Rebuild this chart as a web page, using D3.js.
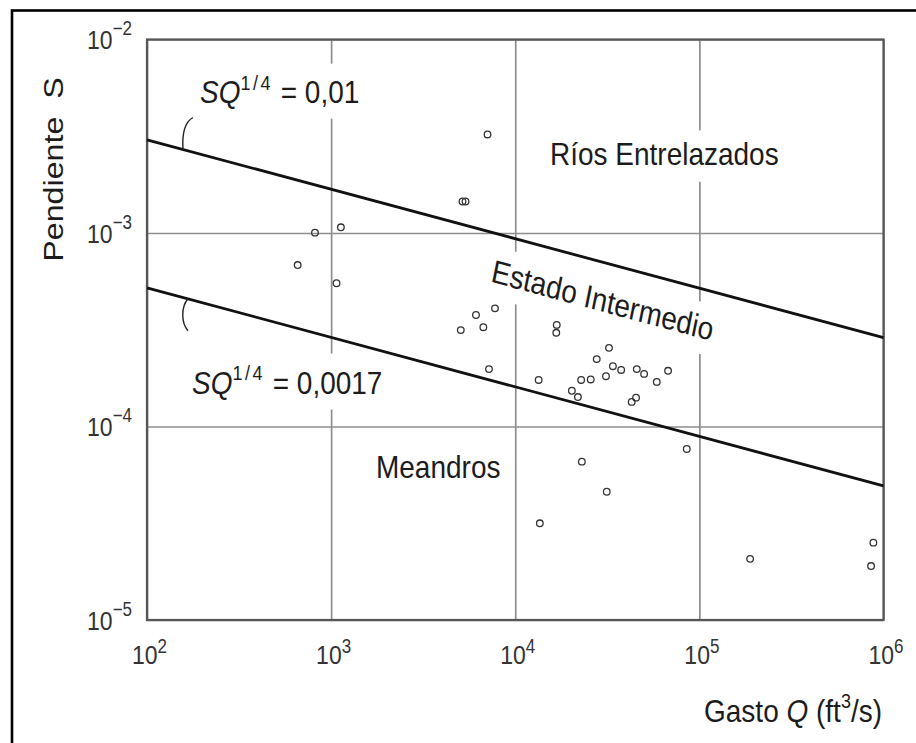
<!DOCTYPE html>
<html><head><meta charset="utf-8">
<script src="https://cdn.jsdelivr.net/npm/d3@7"></script>
<style>
body{margin:0;background:#fff}
svg{display:block}
text{font-family:Arial,"Liberation Sans",sans-serif}
</style>
</head><body>
<svg id="c" width="916" height="743"></svg>
<script>
// ---------- data ----------
const xTickValues = [1e2, 1e3, 1e4, 1e5, 1e6];
const xTickExponents = ["2", "3", "4", "5", "6"];
const yTickValues = [1e-2, 1e-3, 1e-4, 1e-5];
const yTickExponents = ["\u22122", "\u22123", "\u22124", "\u22125"];

const gastoQ = [7070, 5170, 5370, 817, 1130, 658, 1070, 5060, 6120, 7760, 6710, 7200,
  16800, 16700, 13400, 20300, 21900, 22800, 25700, 27700, 32300, 31100, 33900, 37600,
  45700, 50100, 58700, 67600, 42900, 45300, 85400, 23000, 31400, 13600, 188600, 881000, 856000];
const pendienteS = [3.23e-3, 1.455e-3, 1.455e-3, 1.004e-3, 1.07e-3, 6.83e-4, 5.5e-4, 3.15e-4, 3.77e-4, 4.08e-4, 3.26e-4, 1.98e-4,
  3.35e-4, 3.05e-4, 1.74e-4, 1.53e-4, 1.42e-4, 1.74e-4, 1.75e-4, 2.23e-4, 2.55e-4, 1.82e-4, 2.05e-4, 1.96e-4,
  1.98e-4, 1.87e-4, 1.70e-4, 1.94e-4, 1.34e-4, 1.41e-4, 7.65e-5, 6.58e-5, 4.6e-5, 3.16e-5, 2.07e-5, 2.51e-5, 1.9e-5];

// boundary lines SQ^(1/4) = const (end points)
const upperLineQ = [1e2, 1e6];
const upperLineS = [3.03e-3, 2.88e-4];
const lowerLineQ = [1e2, 1e6];
const lowerLineS = [5.21e-4, 4.93e-5];

// ---------- layout ----------
const svg = d3.select("#c");
const L = 147, R = 883.5, T = 39.5, B = 620;
const SY = 1.15; // vertical stretch of lettering
const x = d3.scaleLog().domain([1e2, 1e6]).range([L, R]);
const y = d3.scaleLog().domain([1e-5, 1e-2]).range([B, T]);

// outer frame
svg.append("rect").attr("x", 12).attr("y", 10.5).attr("width", 1000).attr("height", 1000)
  .attr("fill", "none").attr("stroke", "#000").attr("stroke-width", 2.6);

// grid via axes
const gx = svg.append("g").attr("transform", `translate(0,${B})`)
  .call(d3.axisBottom(x).tickValues(xTickValues).tickSize(-(B - T)).tickFormat(() => ""));
gx.select(".domain").remove();
gx.selectAll(".tick line").attr("stroke", "#8e8e8e").attr("stroke-width", 1.7);
gx.selectAll(".tick").each(function (d, i) {
  const g = d3.select(this).append("g").attr("transform", `translate(2,44) scale(1,${SY})`);
  const t = g.append("text").attr("text-anchor", "middle").attr("font-size", 23).attr("fill", "#333");
  t.append("tspan").text("10");
  t.append("tspan").attr("font-size", 17).attr("dy", -9.5).text(xTickExponents[i]);
});

const gy = svg.append("g").attr("transform", `translate(${L},0)`)
  .call(d3.axisLeft(y).tickValues(yTickValues).tickSize(-(R - L)).tickFormat(() => ""));
gy.select(".domain").remove();
gy.selectAll(".tick line").attr("stroke", "#8e8e8e").attr("stroke-width", 1.7);
gy.selectAll(".tick").each(function (d, i) {
  const g = d3.select(this).append("g").attr("transform", `translate(-15,9) scale(1,${SY})`);
  const t = g.append("text").attr("text-anchor", "end").attr("font-size", 23).attr("fill", "#333");
  t.append("tspan").text("10");
  t.append("tspan").attr("font-size", 17).attr("dy", -12).text(yTickExponents[i]);
});

// plot frame
svg.append("rect").attr("x", L).attr("y", T).attr("width", R - L).attr("height", B - T)
  .attr("fill", "none").attr("stroke", "#555").attr("stroke-width", 2.2);

// ---------- in-plot labels (with white knock-out behind to break grid) ----------
function label(px, py, angle, build, pad) {
  const g = svg.append("g").attr("transform", `translate(${px},${py}) scale(1,${SY}) rotate(${angle})`);
  const r = g.append("rect").attr("fill", "#fff");
  const t = g.append("text").attr("font-size", 28).attr("fill", "#1c1c1c");
  build(t);
  const bb = t.node().getBBox();
  const p = pad || [5, 6, 5, 8];
  r.attr("x", bb.x - p[0]).attr("y", bb.y - p[1]).attr("width", bb.width + p[0] + p[2]).attr("height", bb.height + p[1] + p[3]);
  return g;
}

const lineSlope = (y(upperLineS[1]) - y(upperLineS[0])) / (x(upperLineQ[1]) - x(upperLineQ[0]));
const angleLocal = Math.atan(lineSlope / SY) * 180 / Math.PI;

label(200, 103, 0, t => {
  t.append("tspan").attr("font-style", "italic").text("SQ");
  t.append("tspan").attr("font-size", 18).attr("letter-spacing", 2.5).attr("dy", -11.5).text("1/4");
  t.append("tspan").attr("dy", 11.5).text("\u00a0=\u00a00,01");
});
label(192, 394, 0, t => {
  t.append("tspan").attr("font-style", "italic").text("SQ");
  t.append("tspan").attr("font-size", 18).attr("letter-spacing", 2.5).attr("dy", -12.5).text("1/4");
  t.append("tspan").attr("dy", 12.5).text("\u00a0=\u00a00,0017");
});
label(550, 165, 0, t => t.text("R\u00edos Entrelazados"), [6, 5, 6, 9]);
label(376, 478, 0, t => t.text("Meandros"), [5, 3, 5, 3]);
label(490, 281.5, angleLocal, t => t.text("Estado Intermedio"), [5, 6, 5, 8]);

// ---------- boundary lines ----------
const line = d3.line().x(d => x(d.q)).y(d => y(d.s));
const upper = upperLineQ.map((q, i) => ({ q, s: upperLineS[i] }));
const lower = lowerLineQ.map((q, i) => ({ q, s: lowerLineS[i] }));
[upper, lower].forEach(data => {
  svg.append("path").datum(data).attr("d", line).attr("fill", "none")
    .attr("stroke", "#111").attr("stroke-width", 2.8);
});

// leader marks from the lines to their labels
function onLine(data, px) {
  const t = (px - x(data[0].q)) / (x(data[1].q) - x(data[0].q));
  return y(data[0].s) + t * (y(data[1].s) - y(data[0].s));
}
{
  const x0 = 183, y0 = onLine(upper, x0);
  svg.append("path").attr("d", `M${x0},${y0} C${x0 - 1},${y0 - 15} ${x0 + 1},${y0 - 27} ${x0 + 10},${y0 - 32}`)
    .attr("fill", "none").attr("stroke", "#222").attr("stroke-width", 1.4);
  const x1 = 188, y1 = onLine(lower, x1);
  svg.append("path").attr("d", `M${x1},${y1} C${x1 - 7},${y1 + 8} ${x1 - 7},${y1 + 24} ${x1},${y1 + 32}`)
    .attr("fill", "none").attr("stroke", "#222").attr("stroke-width", 1.4);
}

// ---------- data points ----------
svg.append("g").selectAll("circle").data(gastoQ.map((q, i) => ({ q, s: pendienteS[i] })))
  .join("circle")
  .attr("cx", d => x(d.q)).attr("cy", d => y(d.s)).attr("r", 3.3)
  .attr("fill", "none").attr("stroke", "#333").attr("stroke-width", 1.3);

// ---------- axis titles ----------
{
  const g = svg.append("g").attr("transform", `translate(63,169.5) scale(1,${SY}) rotate(-90)`);
  g.append("text").attr("text-anchor", "middle").attr("font-size", 28).attr("fill", "#1c1c1c")
    .text("Pendiente\u00a0\u00a0S");
}
{
  const g = svg.append("g").attr("transform", `translate(882,722) scale(1,${SY})`);
  const t = g.append("text").attr("text-anchor", "end").attr("font-size", 28).attr("fill", "#1c1c1c");
  t.append("tspan").text("Gasto ");
  t.append("tspan").attr("font-style", "italic").text("Q");
  t.append("tspan").text(" (ft");
  t.append("tspan").attr("font-size", 18).attr("dy", -12).text("3");
  t.append("tspan").attr("dy", 12).text("/s)");
}
</script>
</body></html>
